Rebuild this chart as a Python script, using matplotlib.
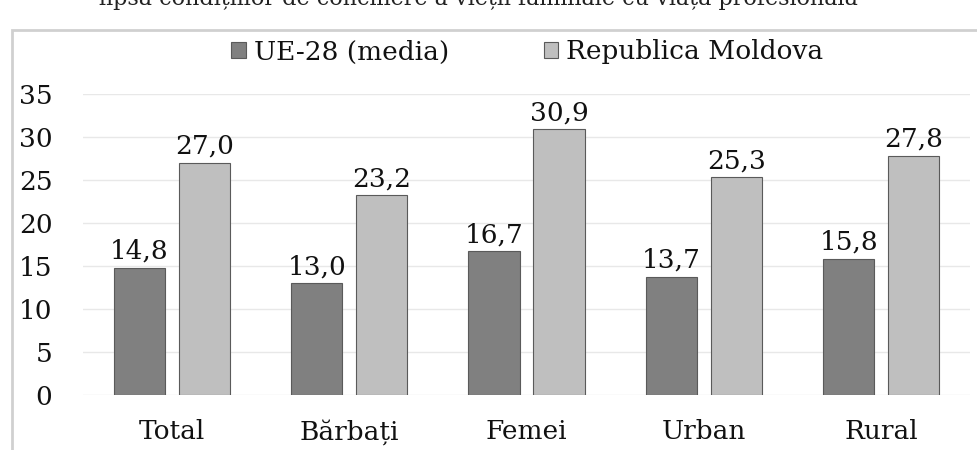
import matplotlib.pyplot as plt
import numpy as np
from matplotlib.patches import Rectangle

categories = ["Total", "Bărbați", "Femei", "Urban", "Rural"]
ue28 = [14.8, 13.0, 16.7, 13.7, 15.8]
moldova = [27.0, 23.2, 30.9, 25.3, 27.8]
series_names = ["UE-28 (media)", "Republica Moldova"]
yticks = [0, 5, 10, 15, 20, 25, 30, 35]

plt.rcParams['font.family'] = ['DejaVu Serif']

fig = plt.figure(figsize=(9.77, 4.5), dpi=100)

# clipped caption line from the source page (cut at the top, as in the source)
fig.text(0.49, 1.0 + 12 / 450, "lipsa condițiilor de conciliere a vieții familiale cu viața profesională",
         ha="center", va="top", fontsize=16, color="#222222")

# chart frame
fig.patches.append(Rectangle((12 / 977, -0.1), 1.2, 1 - 30 / 450 + 0.1, transform=fig.transFigure,
                             facecolor="white", edgecolor="#d0d0d0", linewidth=2, zorder=-10))

ax = fig.add_axes([83 / 977, 1 - 395 / 450, (970 - 83) / 977, 301 / 450])
ax.set_facecolor("none")

x = np.arange(len(categories))
w = 0.288
off = 0.183
b1 = ax.bar(x - off, ue28, w, color="#808080", edgecolor="#5a5a5a", linewidth=0.8, label=series_names[0], zorder=3)
b2 = ax.bar(x + off, moldova, w, color="#bfbfbf", edgecolor="#5a5a5a", linewidth=0.8, label=series_names[1], zorder=3)

for bars, vals in ((b1, ue28), (b2, moldova)):
    for r, v in zip(bars, vals):
        ax.annotate(f"{v:.1f}".replace(".", ","), (r.get_x() + r.get_width() / 2, v),
                    xytext=(0, 3), textcoords="offset points", ha="center", va="bottom",
                    fontsize=19, color="#111111")

ax.set_xlim(-0.5, len(categories) - 0.5)
ax.set_ylim(0, 35)
ax.set_yticks(yticks)
ax.set_xticks(x)
ax.set_xticklabels(categories)
ax.tick_params(axis="both", length=0, labelsize=19, colors="#111111")
ax.tick_params(axis="y", pad=22)
ax.tick_params(axis="x", pad=17)
ax.grid(axis="y", color="#e8e8e8", linewidth=1, zorder=0)
for s in ax.spines.values():
    s.set_visible(False)

fig.legend(handles=[b1, b2], labels=series_names, loc="center left",
           bbox_to_anchor=(218 / 977, 1 - 52 / 450), ncol=2, frameon=False, fontsize=19,
           handlelength=0.55, handleheight=0.55, handletextpad=0.3, columnspacing=3.6, borderpad=0,
           labelcolor="#111111")

fig.savefig("out.png", dpi=100)
